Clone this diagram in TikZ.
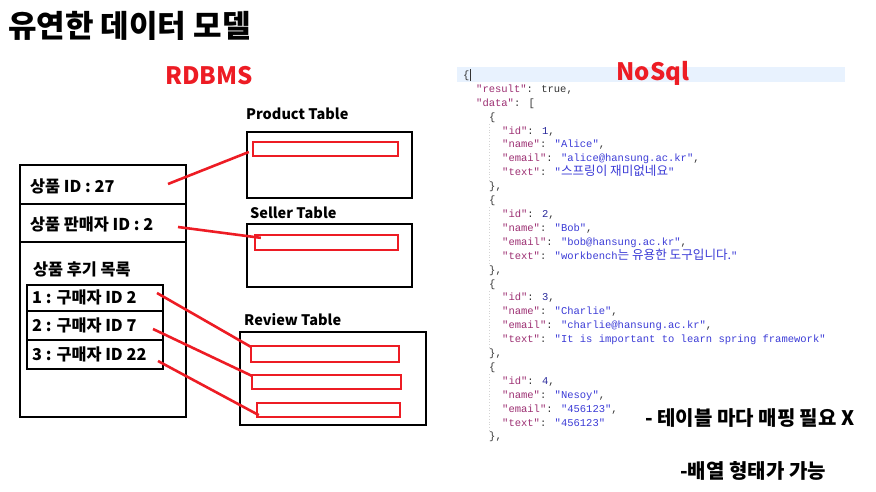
\documentclass[tikz,border=0pt]{standalone}
\usepackage{fontspec}
\newfontfamily\krfont{Noto Sans CJK KR}
\newfontfamily\jsonfont{Liberation Mono}
\usepackage{xcolor}
\definecolor{mspred}{HTML}{ED1C24}
\definecolor{jkey}{HTML}{9C2F72}
\definecolor{jstr}{HTML}{3B3BD6}
\definecolor{jnum}{HTML}{2A2A9C}
\definecolor{jpun}{HTML}{333333}
\definecolor{jbar}{HTML}{E8F2FE}
\definecolor{jguide}{HTML}{D4D4D4}
\usetikzlibrary{calc}

\newcommand{\jk}[1]{\textcolor{jkey}{"#1"}}
\newcommand{\js}[1]{\textcolor{jstr}{"#1"}}
\newcommand{\jn}[1]{\textcolor{jnum}{#1}}
\newcommand{\kr}[1]{{\krfont\fontsize{12.6}{12.6}\selectfont #1}}

\begin{document}
\begin{tikzpicture}[x=1pt, y=-1pt,
    box/.style={draw, line width=2.6pt},
    redrow/.style={draw=mspred, line width=2.3pt, inner sep=0pt},
    link/.style={draw=mspred, line width=2.6pt},
    lbl/.style={anchor=west, inner sep=0pt,
                font=\krfont\bfseries\fontsize{16.3}{16.3}\selectfont},
    tbl/.style={anchor=west, inner sep=0pt,
                font=\krfont\bfseries\fontsize{14.5}{14.5}\selectfont},
    head/.style={inner sep=0pt, text=mspred,
                 font=\krfont\bfseries\fontsize{24}{24}\selectfont},
    note/.style={anchor=west, inner sep=0pt,
                 font=\krfont\bfseries\fontsize{20}{20}\selectfont},
    json/.style={anchor=base west, inner sep=0pt, text=jpun,
                 font=\jsonfont\fontsize{10.5}{10.5}\selectfont}]

    \useasboundingbox (0,0) rectangle (876,492);

    % --- title and column heads
    \node[anchor=west, inner sep=0pt,
          font=\krfont\bfseries\fontsize{31}{31}\selectfont] (title) at (8,26) {유연한 데이터 모델};
    \node[head] (rdbms) at (209,76) {RDBMS};

    % --- record on the left
    \draw[box] (20,165) rectangle (186,417);
    \draw[box] (20,204) -- (186,204);
    \draw[box] (20,242) -- (186,242);
    \node[lbl] (pid) at (30,186) {상품 ID : 27};
    \node[lbl] (sid) at (30,224) {상품 판매자 ID : 2};
    \node[lbl] (rlist) at (33,269) {상품 후기 목록};

    \draw[box] (27,285) rectangle (163,369);
    \draw[box] (27,311) -- (163,311);
    \draw[box] (27,340) -- (163,340);
    \node[lbl] (rv1) at (32,297) {1 : 구매자 ID 2};
    \node[lbl] (rv2) at (32,325) {2 : 구매자 ID 7};
    \node[lbl] (rv3) at (32,354) {3 : 구매자 ID 22};

    \coordinate (pidend) at (168,184);
    \coordinate (sidend) at (178,227);
    \coordinate (rv1end) at (157,293);
    \coordinate (rv2end) at (153,329);
    \coordinate (rv3end) at (158,361);

    % --- tables
    \node[tbl] (ptbl) at (246,114) {Product Table};
    \draw[box] (247,132) rectangle (412,198);
    \node[redrow, minimum width=145, minimum height=14] (prow) at (325.5,149) {};

    \node[tbl] (stbl) at (250,213) {Seller Table};
    \draw[box] (247,224) rectangle (412,287);
    \node[redrow, minimum width=143, minimum height=15] (srow) at (326.5,242.5) {};

    \node[tbl] (rtbl) at (244,320) {Review Table};
    \draw[box] (240,332) rectangle (426,425);
    \node[redrow, minimum width=148, minimum height=16] (rrow1) at (325,354) {};
    \node[redrow, minimum width=149, minimum height=14] (rrow2) at (326.5,382) {};
    \node[redrow, minimum width=143, minimum height=14] (rrow3) at (328.5,410) {};

    % --- links
    \draw[link] (pidend) -- ($(prow.west)+(-3,3)$);
    \draw[link] (sidend) -- ($(srow.north west)+(7,4)$);
    \draw[link] (rv1end) -- ($(rrow1.north west)+(1,2)$);
    \draw[link] (rv2end) -- ($(rrow2.north west)+(1,2)$);
    \draw[link] (rv3end) -- ($(rrow3.south west)+(3,-3)$);

    % --- json view
    \fill[jbar] (457,67) rectangle (845,82);
    \draw[jpun, line width=0.5pt] (470,69) -- (470,81);
    \foreach \ya/\yb in {124/181, 207/264, 291/348, 374/431}
        \draw[jguide, line width=0.8pt, dotted] (489,\ya) -- (489,\yb);
    \node[head] (nosql) at (653,73) {NoSql};

    \node[json] (j1)  at (463,78.5)  {\{};
    \node[json] (j2)  at (476,92.4)  {\jk{result}: true,};
    \node[json] (j3)  at (476,106.3) {\jk{data}: [};
    \node[json] (j4)  at (489,120.2) {\{};
    \node[json] (j5)  at (502,134.1) {\jk{id}: \jn{1},};
    \node[json] (j6)  at (502,148)   {\jk{name}: \js{Alice},};
    \node[json] (j7)  at (502,161.9) {\jk{email}: \js{alice@hansung.ac.kr},};
    \node[json] (j8)  at (502,175.8) {\jk{text}: \js{\kr{스프링이 재미없네요}}};
    \node[json] (j9)  at (489,189.7) {\},};
    \node[json] (j10) at (489,203.6) {\{};
    \node[json] (j11) at (502,217.5) {\jk{id}: \jn{2},};
    \node[json] (j12) at (502,231.4) {\jk{name}: \js{Bob},};
    \node[json] (j13) at (502,245.3) {\jk{email}: \js{bob@hansung.ac.kr},};
    \node[json] (j14) at (502,259.2) {\jk{text}: \js{workbench\kr{는 유용한 도구입니다.}}};
    \node[json] (j15) at (489,273.1) {\},};
    \node[json] (j16) at (489,287)   {\{};
    \node[json] (j17) at (502,300.9) {\jk{id}: \jn{3},};
    \node[json] (j18) at (502,314.8) {\jk{name}: \js{Charlie},};
    \node[json] (j19) at (502,328.7) {\jk{email}: \js{charlie@hansung.ac.kr},};
    \node[json] (j20) at (502,342.6) {\jk{text}: \js{It is important to learn spring framework}};
    \node[json] (j21) at (489,356.5) {\},};
    \node[json] (j22) at (489,370.4) {\{};
    \node[json] (j23) at (502,384.3) {\jk{id}: \jn{4},};
    \node[json] (j24) at (502,398.2) {\jk{name}: \js{Nesoy},};
    \node[json] (j25) at (502,412.1) {\jk{email}: \js{456123},};
    \node[json] (j26) at (502,426)   {\jk{text}: \js{456123}};
    \node[json] (j27) at (489,439.9) {\},};

    % --- notes
    \node[note] (note1) at (645,418) {- 테이블 마다 매핑 필요 X};
    \node[note] (note2) at (680,471) {-배열 형태가 가능};
\end{tikzpicture}
\end{document}
